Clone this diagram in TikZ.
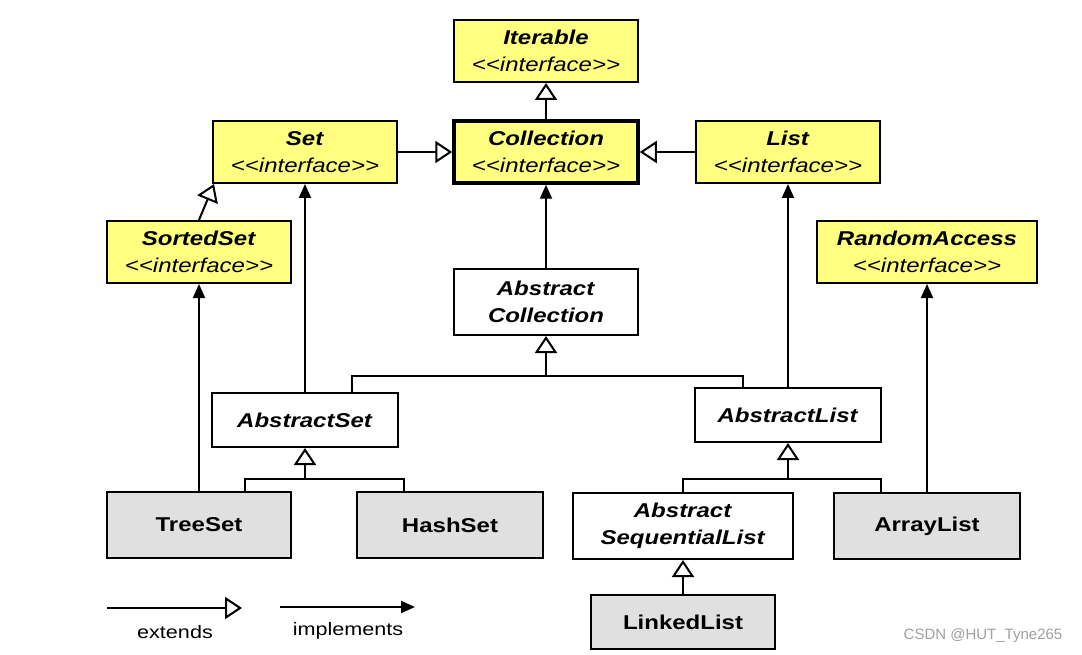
\documentclass[tikz,border=0pt]{standalone}
\usepackage{fontspec}
\setmainfont{Liberation Sans}
\newfontfamily\uml{Liberation Sans}[FakeStretch=1.2]
\usetikzlibrary{arrows.meta}
\definecolor{ifyellow}{RGB}{255,255,128}
\definecolor{clgray}{RGB}{224,224,224}
\definecolor{wmgray}{RGB}{160,160,160}
\begin{document}
\begin{tikzpicture}[x=1pt,y=-1pt,
  umlbox/.style={draw, line width=2pt, inner sep=0pt, align=center,
    font=\uml\fontsize{20}{27}\selectfont},
  iface/.style={umlbox, fill=ifyellow},
  abst/.style={umlbox, fill=white},
  concrete/.style={umlbox, fill=clgray, font=\uml\fontsize{20}{27}\selectfont\bfseries},
  conn/.style={line width=2pt},
  ext/.style={conn, -{Triangle[fill=white, length=17pt, width=22pt]}},
  impl/.style={conn, -{Triangle[length=14pt, width=12pt]}},
  legend/.style={font=\uml\fontsize{18}{20}\selectfont}
]
\useasboundingbox[fill=white] (0,0) rectangle (1082,655);

% interfaces
\node[iface, minimum width=184pt, minimum height=62pt] (iter) at (546,51)
  {\textbf{\textit{Iterable}}\\\textit{<<interface>>}};
\node[iface, line width=3.5pt, minimum width=184pt, minimum height=62pt] (coll) at (546,152)
  {\textbf{\textit{Collection}}\\\textit{<<interface>>}};
\node[iface, minimum width=184pt, minimum height=62pt] (set) at (305,152)
  {\textbf{\textit{Set}}\\\textit{<<interface>>}};
\node[iface, minimum width=184pt, minimum height=62pt] (list) at (788,152)
  {\textbf{\textit{List}}\\\textit{<<interface>>}};
\node[iface, minimum width=184pt, minimum height=62pt] (sorted) at (199,252)
  {\textbf{\textit{SortedSet}}\\\textit{<<interface>>}};
\node[iface, minimum width=220pt, minimum height=62pt] (ra) at (927,252)
  {\textbf{\textit{RandomAccess}}\\\textit{<<interface>>}};

% abstract classes
\node[abst, minimum width=184pt, minimum height=66pt] (ac) at (546,302)
  {\textbf{\textit{Abstract}}\\\textbf{\textit{Collection}}};
\node[abst, minimum width=186pt, minimum height=54pt] (as) at (305,420)
  {\textbf{\textit{AbstractSet}}};
\node[abst, minimum width=186pt, minimum height=54pt] (al) at (788,415)
  {\textbf{\textit{AbstractList}}};
\node[abst, minimum width=220pt, minimum height=66pt] (asl) at (683,526)
  {\textbf{\textit{Abstract}}\\\textbf{\textit{SequentialList}}};

% concrete classes
\node[concrete, minimum width=184pt, minimum height=66pt] (tree) at (199,525) {TreeSet};
\node[concrete, minimum width=186pt, minimum height=66pt] (hash) at (450,525) {HashSet};
\node[concrete, minimum width=186pt, minimum height=66pt] (arr) at (927,526) {ArrayList};
\node[concrete, minimum width=184pt, minimum height=54pt] (linked) at (683,622) {LinkedList};

% junction points
\coordinate (jc) at (546,376);
\coordinate (js) at (305,479);
\coordinate (jl) at (788,479);

% interface inheritance
\draw[ext] (coll) -- (iter);
\draw[ext] (set) -- (coll);
\draw[ext] (list) -- (coll);
\draw[ext] (sorted.north) -- ([xshift=2pt]set.south west);

% implements
\draw[impl] (ac) -- (coll);
\draw[impl] (as) -- (set);
\draw[impl] (al) -- (list);
\draw[impl] (tree) -- (sorted);
\draw[impl] (arr) -- (ra);

% extends trees
\draw[ext] ([xshift=47pt]as.north) |- (jc) -- (ac.south);
\draw[conn] ([xshift=-45pt]al.north) |- (jc);
\draw[ext] ([xshift=46pt]tree.north) |- (js) -- (as.south);
\draw[conn] ([xshift=-46pt]hash.north) |- (js);
\draw[ext] (asl.north) |- (jl) -- (al.south);
\draw[conn] ([xshift=-46pt]arr.north) |- (jl);
\draw[ext] (linked) -- (asl);

% legend
\coordinate (e1) at (107,608);
\coordinate (e2) at (242,608);
\coordinate (i1) at (280,607);
\coordinate (i2) at (415,607);
\draw[ext] (e1) -- (e2);
\draw[impl] (i1) -- (i2);
\node[legend] (lext) at (175,632) {extends};
\node[legend] (limp) at (348,631) {implements};

% watermark
\node[font=\fontsize{15}{17}\selectfont, text=wmgray] (wm) at (983,636) {CSDN @HUT\_Tyne265};
\end{tikzpicture}
\end{document}
